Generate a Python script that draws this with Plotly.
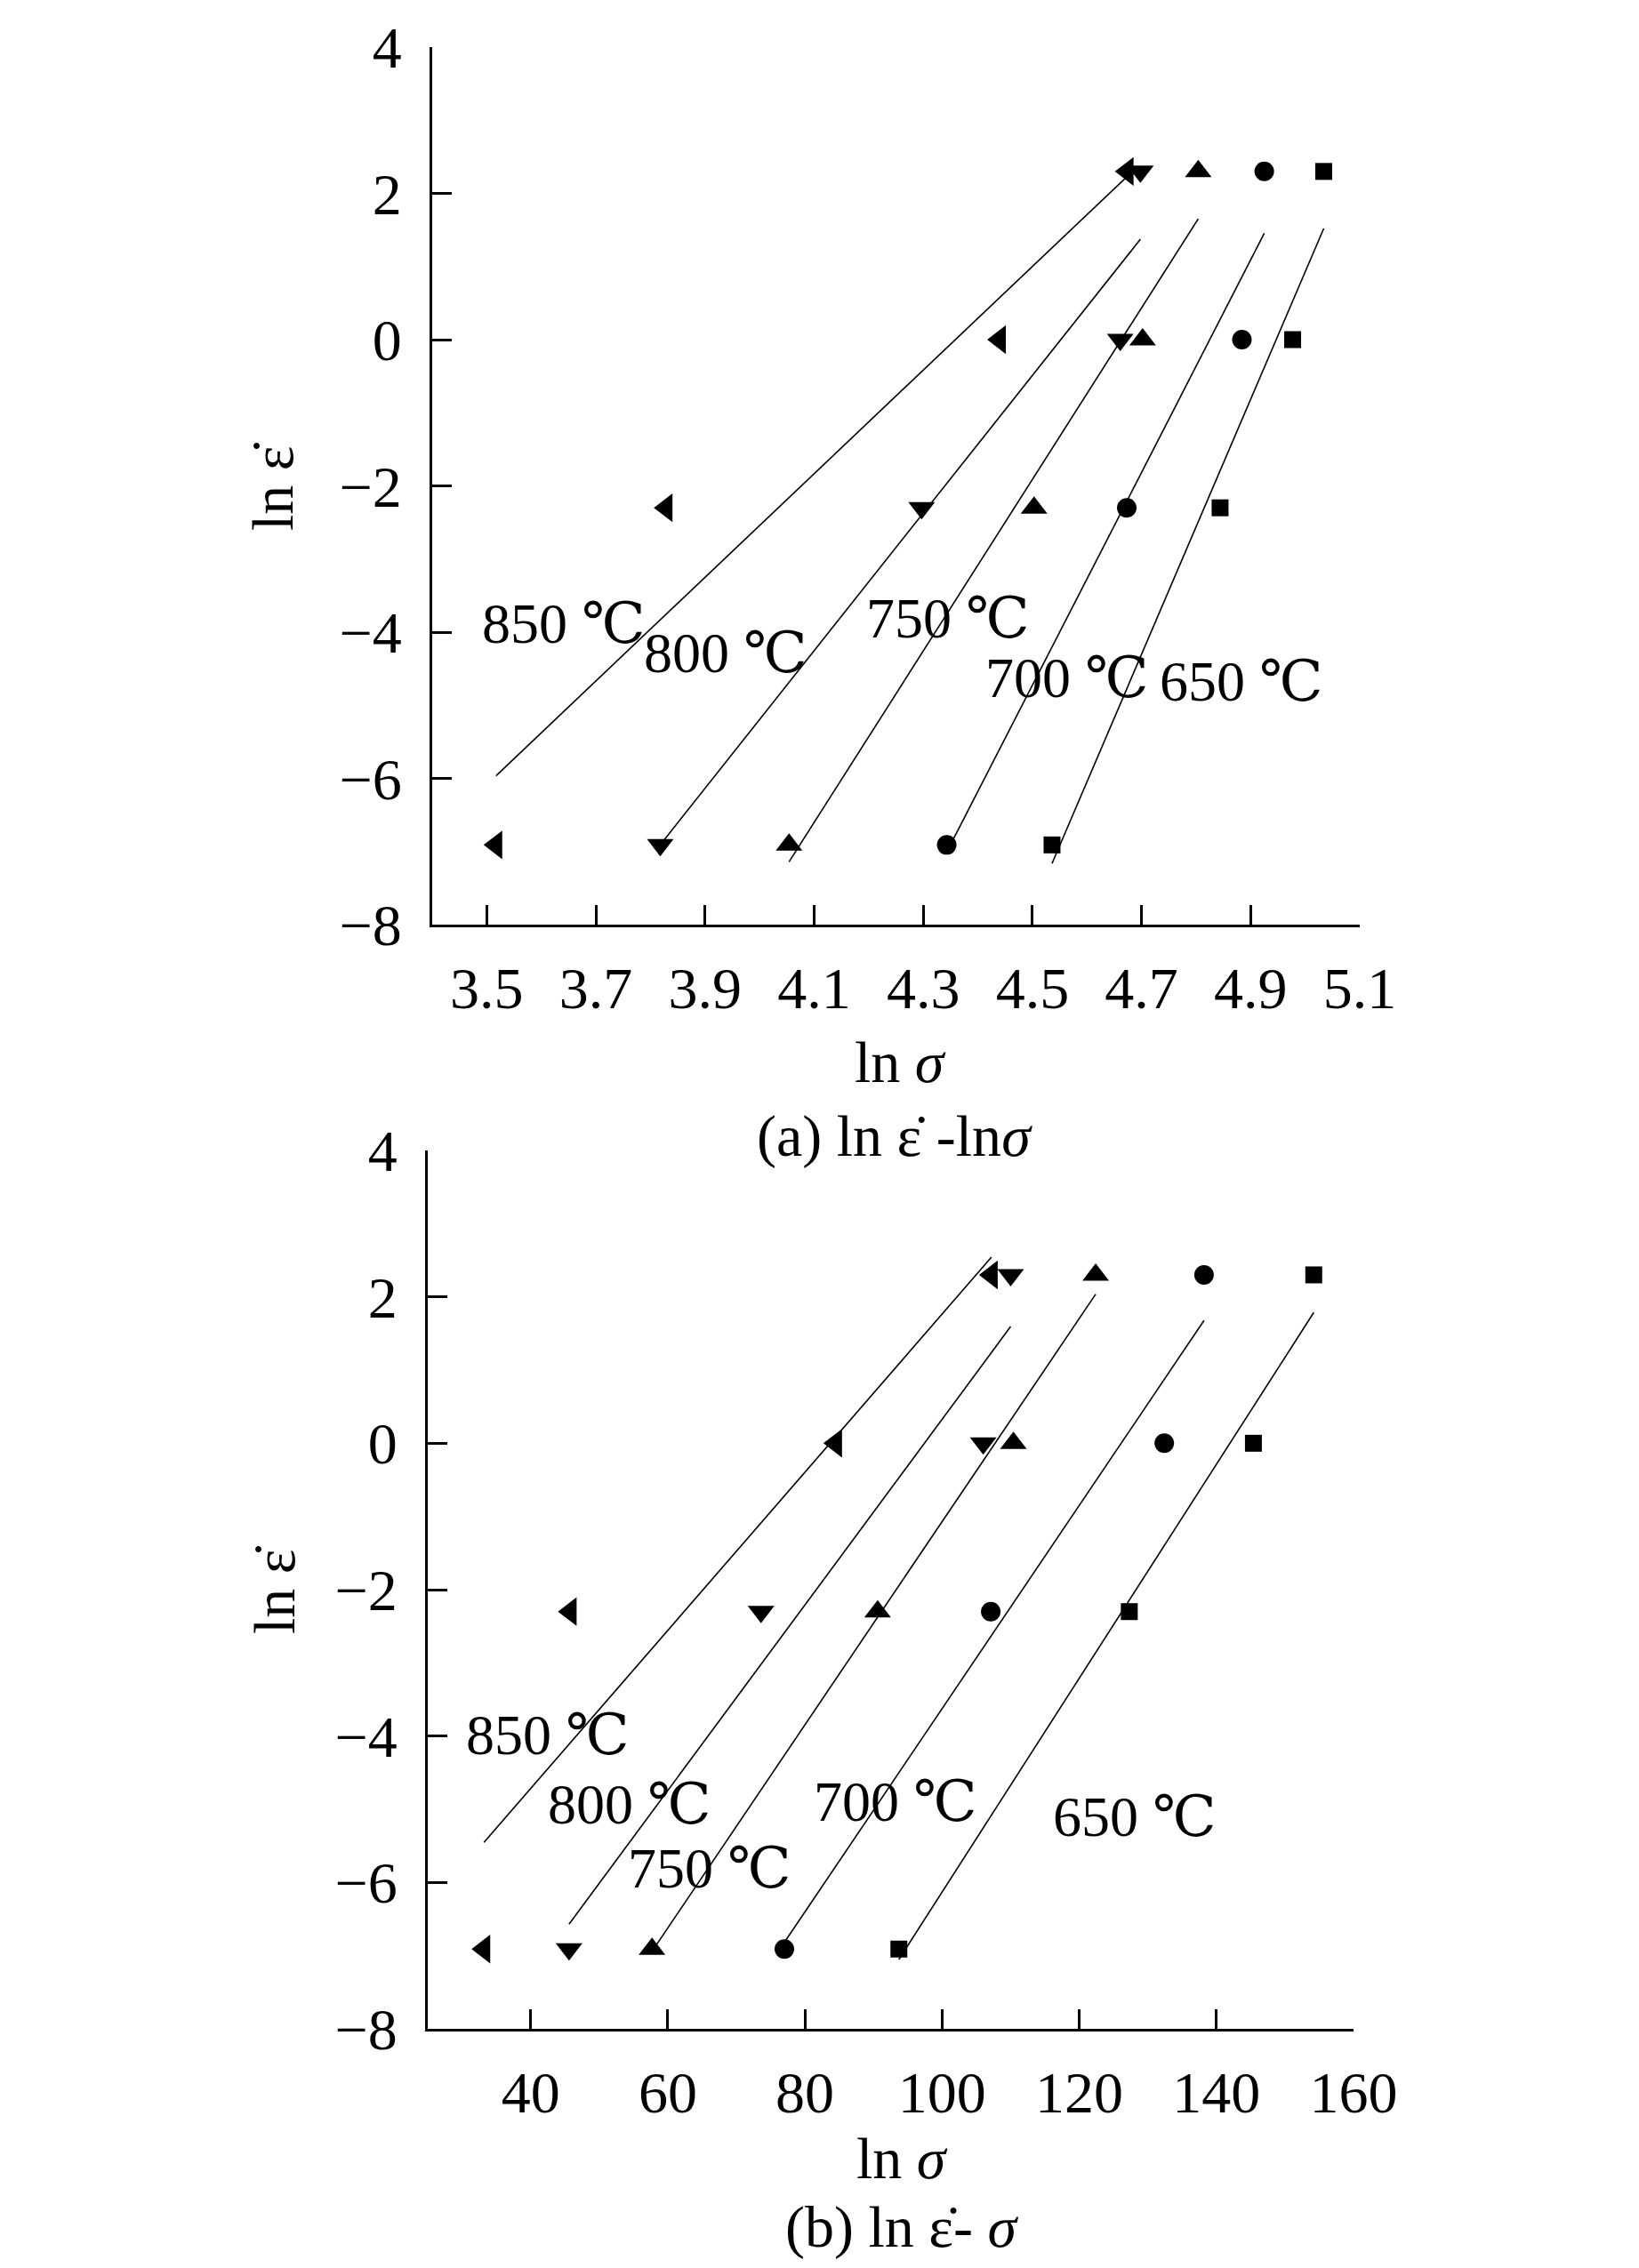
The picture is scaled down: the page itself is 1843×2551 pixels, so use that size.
import numpy as np
import plotly.graph_objects as go

# ---------------- data ----------------
temps = ["850 ℃", "800 ℃", "750 ℃", "700 ℃", "650 ℃"]
symbols = ["triangle-left", "triangle-down", "triangle-up", "circle", "square"]

ln_rate = [-6.91, -2.30, 0.0, 2.30]          # ln(strain rate) values

# panel (a): ln(sigma)
lnsig_850 = [3.517, 3.829, 4.440, 4.674]
lnsig_800 = [3.818, 4.297, 4.661, 4.698]
lnsig_750 = [4.054, 4.503, 4.702, 4.804]
lnsig_700 = [4.343, 4.673, 4.884, 4.925]
lnsig_650 = [4.536, 4.844, 4.977, 5.034]

# panel (b): sigma
sig_850 = [33.2, 45.8, 84.5, 107.2]
sig_800 = [45.6, 73.6, 106.0, 110.0]
sig_750 = [57.7, 90.6, 110.4, 122.4]
sig_700 = [77.0, 107.1, 132.4, 138.2]
sig_650 = [93.7, 127.3, 145.4, 154.2]

# label anchor positions (data coords)
lab_a_x = [3.641, 3.938, 4.345, 4.564, 4.883]
lab_a_y = [-3.88, -4.28, -3.81, -4.62, -4.68]
lab_b_x = [42.5, 54.4, 66.1, 93.2, 128.1]
lab_b_y = [-3.99, -4.93, -5.81, -4.90, -5.10]

y_ticks = [-8, -6, -4, -2, 0, 2, 4]
xa_ticks = [3.5, 3.7, 3.9, 4.1, 4.3, 4.5, 4.7, 4.9, 5.1]
xb_ticks = [40, 60, 80, 100, 120, 140, 160]

# ---------------- figure ----------------
W, H = 1843, 2551
OFF = 8  # page body margin compensation
FONT = "Liberation Serif, DejaVu Serif, Times New Roman, serif"
fig = go.Figure()

panel_a = [lnsig_850, lnsig_800, lnsig_750, lnsig_700, lnsig_650]
panel_b = [sig_850, sig_800, sig_750, sig_700, sig_650]
msize = {"triangle-left": 28, "triangle-down": 26, "triangle-up": 26, "circle": 22, "square": 19}

for xs_list, xa, ya in [(panel_a, "x", "y"), (panel_b, "x2", "y2")]:
    for xs, sym in zip(xs_list, symbols):
        xs = np.array(xs)
        k, b = np.polyfit(xs, np.array(ln_rate), 1)
        xl = np.array([xs.min(), xs.max()])
        fig.add_trace(go.Scatter(x=xl, y=k * xl + b, mode="lines",
                                 line=dict(color="black", width=1.6),
                                 xaxis=xa, yaxis=ya, showlegend=False, hoverinfo="skip"))
        fig.add_trace(go.Scatter(x=xs, y=ln_rate, mode="markers",
                                 marker=dict(symbol=sym, size=msize[sym], color="black",
                                             line=dict(width=0)),
                                 xaxis=xa, yaxis=ya, showlegend=False))

axis_common = dict(showline=True, linecolor="black", linewidth=3, ticks="inside",
                   ticklen=22, tickwidth=3, tickcolor="black", showgrid=False,
                   zeroline=False, mirror=False, automargin=False,
                   tickfont=dict(family=FONT, size=66, color="black"))


def hx(p):
    return (p - OFF) / W


def vy(p):
    return 1 - (p - OFF) / H


fig.update_layout(
    width=W, height=H, autosize=False, paper_bgcolor="white", plot_bgcolor="white",
    margin=dict(l=0, r=0, t=0, b=0, pad=0),
    xaxis=dict(domain=[hx(486), hx(1529)], range=[3.4, 5.1], tickvals=xa_ticks,
               ticktext=[f"{v:.1f}" for v in xa_ticks], anchor="y",
               ticklabelstandoff=12, **axis_common),
    yaxis=dict(domain=[vy(1040), vy(53)], range=[-8, 4], tickvals=y_ticks,
               anchor="x", ticklabelstandoff=18, **axis_common),
    xaxis2=dict(domain=[hx(481), hx(1522)], range=[25, 160], tickvals=xb_ticks,
                anchor="y2", ticklabelstandoff=12, **axis_common),
    yaxis2=dict(domain=[vy(2282), vy(1294)], range=[-8, 4], tickvals=y_ticks,
                anchor="x2", ticklabelstandoff=18, **axis_common),
)

ann = []
for t, x, y in zip(temps, lab_a_x, lab_a_y):
    ann.append(dict(x=x, y=y, xref="x", yref="y", text=t, showarrow=False,
                    xanchor="center", yanchor="middle",
                    font=dict(family=FONT, size=64, color="black")))
for t, x, y in zip(temps, lab_b_x, lab_b_y):
    ann.append(dict(x=x, y=y, xref="x2", yref="y2", text=t, showarrow=False,
                    xanchor="center", yanchor="middle",
                    font=dict(family=FONT, size=64, color="black")))

tfont = dict(family=FONT, size=66, color="black")
titles = [
    (306, 547, "ln ε\u0307", -90),
    (308, 1788, "ln ε\u0307", -90),
    (1012, 1195, "ln <i>σ</i>", 0),
    (1006, 1278, "(a) ln ε\u0307 -ln<i>σ</i>", 0),
    (1015, 2427, "ln <i>σ</i>", 0),
    (1015, 2505, "(b) ln ε\u0307- <i>σ</i>", 0),
]
for px, py, txt, ang in titles:
    ann.append(dict(x=hx(px), y=vy(py), xref="paper", yref="paper", text=txt,
                    textangle=ang, showarrow=False, xanchor="center", yanchor="middle",
                    font=tfont))
fig.update_layout(annotations=ann)

fig.write_html("out.html")
